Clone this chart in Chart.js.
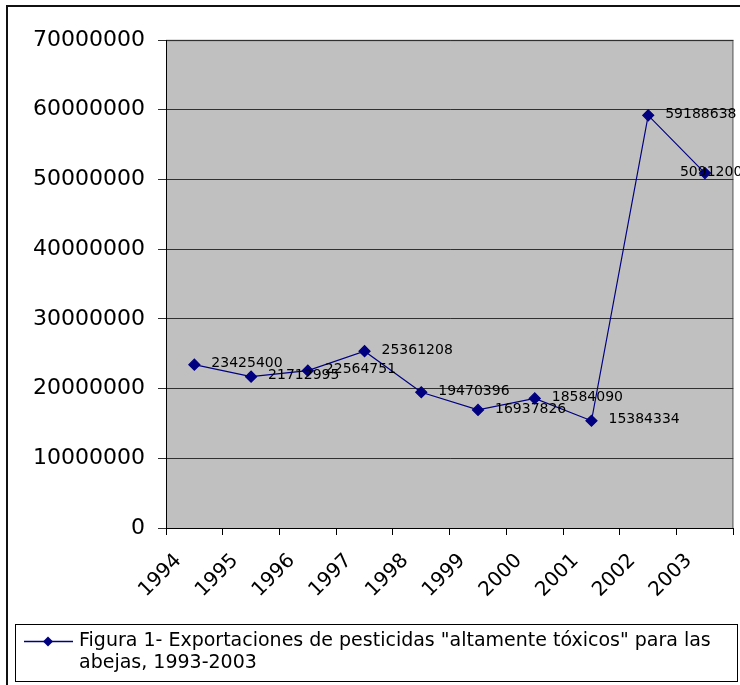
<!DOCTYPE html>
<html>
<head>
<meta charset="utf-8">
<script src="https://cdn.jsdelivr.net/npm/chart.js@4/dist/chart.umd.min.js"></script>
<style>
  html, body { margin: 0; padding: 0; background: #fff; }
  #wrap { position: relative; width: 740px; height: 685px; overflow: hidden; }
  canvas { display: block; }
</style>
</head>
<body>
<div id="wrap"><canvas id="c" width="740" height="685"></canvas></div>
<script>
// Exportaciones anuales de pesticidas altamente tóxicos para las abejas
const years = ['1994', '1995', '1996', '1997', '1998', '1999', '2000', '2001', '2002', '2003'];
const exportsValues = [23425400, 21712995, 22564751, 25361208, 19470396, 16937826, 18584090, 15384334, 59188638, 50912007];
const yTicks = [0, 10000000, 20000000, 30000000, 40000000, 50000000, 60000000, 70000000];
const legendLines = ['Figura 1- Exportaciones de pesticidas "altamente tóxicos" para las', 'abejas, 1993-2003'];

const FONT = 'DejaVu Sans';
const NAVY = '#000080';

// Outer frame and grey plot background
const backdrop = {
  id: 'backdrop',
  beforeDraw(chart) {
    const { ctx, chartArea: a } = chart;
    ctx.save();
    ctx.fillStyle = '#ffffff';
    ctx.fillRect(0, 0, chart.width, chart.height);
    ctx.fillStyle = '#111';
    ctx.fillRect(6, 5, 2, chart.height);
    ctx.fillRect(6, 5, chart.width, 2);
    ctx.fillStyle = '#c0c0c0';
    ctx.fillRect(a.left, a.top, a.right - a.left, a.bottom - a.top);
    ctx.strokeStyle = '#808080';
    ctx.lineWidth = 1.5;
    ctx.beginPath();
    ctx.moveTo(a.left, a.top + 0.5);
    ctx.lineTo(a.right - 0.5, a.top + 0.5);
    ctx.lineTo(a.right - 0.5, a.bottom);
    ctx.stroke();
    ctx.restore();
  }
};

// Value labels beside each point
const valueLabels = {
  id: 'valueLabels',
  afterDatasetsDraw(chart) {
    const { ctx } = chart;
    const meta = chart.getDatasetMeta(0);
    ctx.save();
    ctx.font = '14px "' + FONT + '"';
    ctx.fillStyle = '#000';
    ctx.textAlign = 'left';
    ctx.textBaseline = 'middle';
    meta.data.forEach((pt, i) => {
      const v = chart.data.datasets[0].data[i];
      const dx = i === meta.data.length - 1 ? -25 : 17;
      ctx.fillText(String(v), pt.x + dx, pt.y - 1);
    });
    ctx.restore();
  }
};

// Boxed legend with a two-line caption
const boxLegend = {
  id: 'boxLegend',
  afterDraw(chart) {
    const { ctx } = chart;
    const ds = chart.data.datasets[0];
    ctx.save();
    ctx.strokeStyle = '#000';
    ctx.lineWidth = 1;
    ctx.strokeRect(15.5, 624.5, 722, 57);
    const ly = 641.5;
    ctx.strokeStyle = ds.borderColor;
    ctx.lineWidth = 1.5;
    ctx.beginPath();
    ctx.moveTo(24, ly);
    ctx.lineTo(73, ly);
    ctx.stroke();
    ctx.fillStyle = ds.pointBackgroundColor;
    ctx.beginPath();
    ctx.moveTo(48, ly - 5);
    ctx.lineTo(53, ly);
    ctx.lineTo(48, ly + 5);
    ctx.lineTo(43, ly);
    ctx.closePath();
    ctx.fill();
    ctx.fillStyle = '#000';
    ctx.font = '19px "' + FONT + '"';
    ctx.textAlign = 'left';
    ctx.textBaseline = 'middle';
    legendLines.forEach((t, i) => ctx.fillText(t, 79, 641 + i * 22));
    ctx.restore();
  }
};

new Chart(document.getElementById('c'), {
  type: 'line',
  data: {
    labels: years,
    datasets: [{
      label: legendLines.join(' '),
      data: exportsValues,
      borderColor: NAVY,
      backgroundColor: NAVY,
      pointBackgroundColor: NAVY,
      pointBorderColor: NAVY,
      borderWidth: 1.2,
      pointStyle: 'rectRot',
      pointRadius: 5.5,
      tension: 0,
      fill: false
    }]
  },
  options: {
    responsive: false,
    animation: false,
    devicePixelRatio: 1,
    layout: { padding: { top: 40, right: 5, left: 0, bottom: 0 } },
    plugins: { legend: { display: false }, tooltip: { enabled: false } },
    scales: {
      x: {
        type: 'category',
        offset: true,
        afterFit(s) { s.height = 157; },
        grid: { offset: true, drawOnChartArea: false, drawTicks: true, tickLength: 7, color: '#000', lineWidth: 1 },
        border: { color: '#000', width: 1 },
        ticks: {
          color: '#000',
          font: { family: FONT, size: 20 },
          minRotation: 45,
          maxRotation: 45,
          autoSkip: false,
          labelOffset: -16,
          padding: 14
        }
      },
      y: {
        min: 0,
        max: 70000000,
        afterFit(s) { s.width = 166; },
        afterBuildTicks(s) { s.ticks = yTicks.map(v => ({ value: v })); },
        grid: { color: '#303030', lineWidth: 1, tickLength: 8 },
        border: { color: '#000', width: 1 },
        ticks: {
          color: '#000',
          font: { family: FONT, size: 22 },
          padding: 13,
          callback: v => String(v)
        }
      }
    }
  },
  plugins: [backdrop, valueLabels, boxLegend]
});
</script>
</body>
</html>
